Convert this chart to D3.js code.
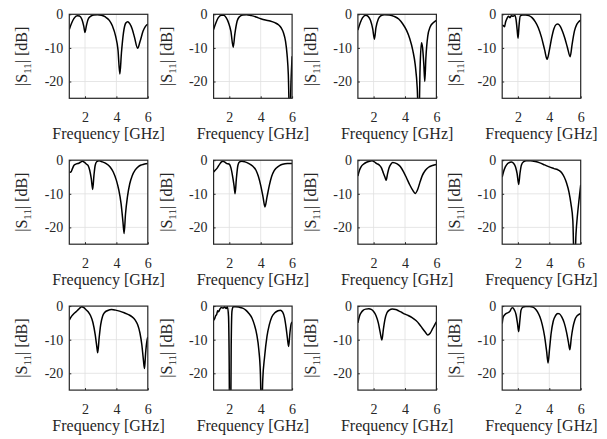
<!DOCTYPE html>
<html>
<head>
<meta charset="utf-8">
<script src="https://cdn.jsdelivr.net/npm/d3@7"></script>
<style>
  body { margin: 0; background: #fff; }
  svg text { font-family: "Liberation Serif", "Times New Roman", serif; fill: #262626; }
</style>
</head>
<body>
<svg id="chart" width="607" height="439"></svg>
<script>
// axis settings
const xDomain = [1, 6];
const yDomain = [-25, 0];
const xTicks = [2, 4, 6];
const yTicks = [0, -10, -20];
const xLabel = 'Frequency [GHz]';

// |S11| in dB, [frequency GHz, value] (row by row)
const s11Panel1 = [[1.0,-4.5],[1.15,-2.6],[1.3,-1.2],[1.5,-0.4],[1.65,-0.5],[1.8,-1.5],[1.92,-3.5],[2.0,-5.4],[2.08,-3.6],[2.2,-1.5],[2.35,-0.6],[2.55,-0.2],[2.8,-0.1],[3.05,-0.3],[3.3,-0.8],[3.55,-1.8],[3.75,-3.5],[3.95,-6.5],[4.1,-10.5],[4.22,-17.8],[4.32,-11.5],[4.45,-5.5],[4.6,-2.6],[4.72,-2.2],[4.85,-2.8],[5.0,-4.3],[5.15,-6.8],[5.35,-10.1],[5.5,-8.2],[5.7,-5.0],[5.85,-3.6],[6.0,-2.9]];
const s11Panel2 = [[1.0,-4.5],[1.15,-2.5],[1.3,-1.0],[1.5,-0.3],[1.65,-0.3],[1.8,-1.0],[1.95,-2.5],[2.1,-5.0],[2.25,-9.8],[2.35,-6.0],[2.5,-2.0],[2.65,-0.7],[2.85,-0.2],[3.1,-0.1],[3.4,-0.4],[3.7,-0.8],[4.0,-1.3],[4.3,-1.7],[4.6,-2.0],[4.9,-2.5],[5.15,-3.2],[5.3,-4.0],[5.45,-5.5],[5.58,-8.0],[5.68,-12],[5.76,-18],[5.85,-34],[5.93,-20],[6.0,-12.5]];
const s11Panel3 = [[1.0,-4.7],[1.15,-2.5],[1.3,-1.0],[1.5,-0.3],[1.65,-0.6],[1.8,-1.8],[1.95,-4.5],[2.05,-7.4],[2.15,-4.0],[2.3,-1.4],[2.45,-0.5],[2.7,-0.1],[3.0,-0.2],[3.3,-0.6],[3.6,-1.4],[3.85,-2.8],[4.1,-4.8],[4.3,-7.2],[4.5,-10.8],[4.65,-15],[4.78,-22],[4.88,-34],[4.96,-16],[5.05,-8.5],[5.12,-10],[5.2,-15],[5.26,-20],[5.33,-13],[5.45,-6.5],[5.6,-3.8],[5.8,-2.5],[6.0,-1.8]];
const s11Panel4 = [[1.0,-3.2],[1.08,-3.4],[1.15,-3.7],[1.22,-2.2],[1.3,-1.3],[1.4,-0.6],[1.5,-1.0],[1.58,-0.4],[1.7,-0.6],[1.8,-0.3],[1.88,-1.5],[1.95,-4.5],[2.01,-7.1],[2.07,-3.5],[2.15,-0.5],[2.3,-0.2],[2.5,-0.2],[2.7,-0.4],[2.9,-1.0],[3.1,-2.2],[3.3,-4.0],[3.5,-6.8],[3.7,-10.5],[3.86,-13.4],[4.0,-10.8],[4.15,-7.0],[4.3,-4.2],[4.45,-3.0],[4.55,-2.9],[4.7,-3.6],[4.85,-5.2],[5.0,-7.3],[5.15,-9.8],[5.33,-12.6],[5.45,-9.0],[5.6,-5.0],[5.75,-3.0],[5.9,-2.1],[6.0,-1.7]];
const s11Panel5 = [[1.0,-3.6],[1.1,-3.5],[1.2,-2.5],[1.3,-1.5],[1.45,-1.1],[1.6,-0.9],[1.75,-0.5],[1.85,-0.3],[1.95,-0.6],[2.1,-1.2],[2.2,-1.6],[2.3,-3.0],[2.4,-5.5],[2.49,-8.7],[2.57,-4.5],[2.65,-1.5],[2.75,-0.4],[2.9,-0.2],[3.1,-0.5],[3.35,-1.0],[3.6,-2.0],[3.8,-3.5],[4.0,-6.0],[4.15,-8.8],[4.3,-13],[4.42,-18.5],[4.49,-21.8],[4.58,-16],[4.7,-11],[4.85,-7.0],[5.0,-4.7],[5.2,-2.9],[5.4,-1.9],[5.6,-1.4],[5.8,-1.1],[6.0,-1.0]];
const s11Panel6 = [[1.0,-3.5],[1.1,-3.0],[1.2,-2.5],[1.3,-1.8],[1.4,-1.1],[1.5,-0.5],[1.6,-0.3],[1.72,-0.6],[1.85,-1.0],[2.0,-1.2],[2.1,-2.2],[2.2,-4.5],[2.3,-7.5],[2.37,-10.0],[2.45,-5.5],[2.55,-1.5],[2.65,-0.5],[2.8,-0.3],[3.0,-0.5],[3.25,-1.0],[3.5,-1.8],[3.7,-3.0],[3.85,-4.8],[4.0,-7.5],[4.15,-11.0],[4.27,-13.9],[4.4,-11.0],[4.55,-7.5],[4.7,-4.8],[4.85,-3.2],[5.0,-2.3],[5.2,-1.6],[5.4,-1.2],[5.7,-1.0],[6.0,-1.0]];
const s11Panel7 = [[1.0,-4.7],[1.1,-3.0],[1.2,-2.0],[1.35,-1.2],[1.55,-0.6],[1.75,-0.3],[1.9,-0.2],[2.05,-0.5],[2.2,-1.0],[2.35,-1.4],[2.5,-2.3],[2.62,-3.8],[2.72,-5.0],[2.8,-6.0],[2.88,-4.2],[2.98,-2.3],[3.1,-1.2],[3.22,-0.7],[3.35,-0.8],[3.5,-1.1],[3.7,-1.9],[3.9,-3.4],[4.1,-5.3],[4.3,-7.3],[4.5,-9.0],[4.65,-9.9],[4.8,-8.8],[4.95,-6.6],[5.1,-4.6],[5.3,-3.0],[5.5,-2.1],[5.75,-1.6],[6.0,-1.3]];
const s11Panel8 = [[1.0,-5.0],[1.1,-3.2],[1.2,-2.0],[1.35,-1.0],[1.5,-0.6],[1.6,-0.5],[1.72,-0.9],[1.85,-2.0],[1.95,-4.0],[2.05,-7.2],[2.13,-4.0],[2.22,-1.5],[2.35,-0.5],[2.55,-0.2],[2.8,-0.2],[3.1,-0.4],[3.4,-0.8],[3.7,-1.4],[4.0,-2.0],[4.3,-2.5],[4.6,-3.0],[4.8,-3.8],[4.95,-5.0],[5.1,-6.8],[5.25,-9.4],[5.38,-13],[5.5,-18],[5.6,-34],[5.7,-22],[5.8,-16],[5.9,-11.5],[6.0,-7.3]];
const s11Panel9 = [[1.0,-4.2],[1.15,-3.0],[1.3,-2.2],[1.45,-1.6],[1.6,-0.9],[1.72,-0.4],[1.8,-0.2],[1.9,-0.4],[2.05,-1.0],[2.2,-1.7],[2.35,-2.8],[2.5,-4.8],[2.65,-8.5],[2.75,-12],[2.81,-13.9],[2.9,-9.5],[3.0,-5.5],[3.12,-3.0],[3.25,-1.9],[3.45,-1.3],[3.7,-1.0],[3.95,-1.2],[4.2,-1.5],[4.5,-2.0],[4.8,-2.6],[5.0,-3.2],[5.2,-4.2],[5.35,-5.5],[5.5,-8.0],[5.62,-11.5],[5.72,-16],[5.79,-18.6],[5.86,-14],[5.94,-10.5],[6.0,-9.2]];
const s11Panel10 = [[1.0,-4.2],[1.06,-3.8],[1.12,-3.0],[1.2,-2.4],[1.26,-1.4],[1.32,-1.7],[1.4,-0.9],[1.5,-0.4],[1.6,-0.6],[1.7,-0.3],[1.8,-0.7],[1.88,-0.2],[1.95,-3.0],[1.99,-15],[2.03,-40],[2.08,-40],[2.12,-12],[2.17,-1.5],[2.25,-0.2],[2.4,-0.2],[2.6,-0.3],[2.85,-0.6],[3.05,-1.2],[3.25,-2.2],[3.45,-3.6],[3.6,-5.6],[3.75,-8.5],[3.88,-13],[3.98,-20],[4.05,-34],[4.13,-22],[4.25,-15],[4.4,-9],[4.55,-5.5],[4.7,-3.3],[4.9,-2.0],[5.1,-1.4],[5.25,-1.2],[5.4,-1.8],[5.52,-3.5],[5.62,-6.5],[5.7,-9.5],[5.78,-12],[5.86,-8],[5.94,-5.3],[6.0,-4.7]];
const s11Panel11 = [[1.0,-5.0],[1.1,-3.0],[1.2,-2.0],[1.35,-1.2],[1.5,-0.9],[1.7,-0.8],[1.85,-1.0],[2.0,-1.6],[2.15,-2.8],[2.3,-5.0],[2.42,-7.8],[2.53,-10.1],[2.62,-7.0],[2.72,-4.0],[2.85,-2.0],[3.0,-1.2],[3.2,-0.9],[3.4,-1.0],[3.6,-1.4],[3.8,-1.9],[4.0,-2.4],[4.2,-2.8],[4.45,-3.4],[4.7,-4.3],[4.9,-5.3],[5.1,-6.6],[5.3,-7.8],[5.45,-8.6],[5.6,-8.1],[5.75,-6.8],[5.9,-5.5],[6.0,-4.7]];
const s11Panel12 = [[1.0,-5.2],[1.05,-3.5],[1.12,-2.8],[1.2,-2.4],[1.3,-2.1],[1.4,-1.9],[1.5,-1.5],[1.6,-0.6],[1.68,-0.5],[1.78,-1.2],[1.88,-2.5],[1.97,-5.0],[2.05,-7.6],[2.12,-4.5],[2.2,-1.2],[2.32,-0.3],[2.5,-0.1],[2.75,-0.1],[2.95,-0.3],[3.1,-0.8],[3.25,-1.7],[3.4,-3.2],[3.55,-5.5],[3.7,-9.0],[3.83,-13.5],[3.92,-16.9],[4.02,-12.5],[4.12,-8.0],[4.25,-4.5],[4.4,-2.8],[4.55,-2.2],[4.65,-2.3],[4.8,-3.3],[4.95,-5.0],[5.1,-7.8],[5.22,-10.8],[5.31,-13.0],[5.4,-9.5],[5.5,-6.5],[5.62,-4.2],[5.75,-3.0],[5.88,-2.5],[6.0,-2.3]];

const panels = [
  s11Panel1, s11Panel2, s11Panel3, s11Panel4,
  s11Panel5, s11Panel6, s11Panel7, s11Panel8,
  s11Panel9, s11Panel10, s11Panel11, s11Panel12
];

const svg = d3.select('#chart');
const serif = '"Liberation Serif", "Times New Roman", serif';

// grid layout of the small axes
const plotW = 78.5, plotH = 84;
const left0 = 69.3, colStep = 144.3;
const top0 = 14.3, rowStep = 145.9;

const x = d3.scaleLinear().domain(xDomain).range([0, plotW]);
const y = d3.scaleLinear().domain(yDomain).range([plotH, 0]);

const line = d3.line()
  .x(d => x(d[0]))
  .y(d => y(d[1]))
  .curve(d3.curveMonotoneX);

panels.forEach((data, i) => {
  const col = i % 4, row = Math.floor(i / 4);
  const g = svg.append('g')
    .attr('font-family', serif)
    .attr('transform', `translate(${left0 + col * colStep}, ${top0 + row * rowStep})`);

  // grid lines
  g.append('g').selectAll('line')
    .data(xTicks.filter(t => t > xDomain[0] && t < xDomain[1]))
    .enter().append('line')
    .attr('x1', d => x(d)).attr('x2', d => x(d))
    .attr('y1', 0).attr('y2', plotH)
    .attr('stroke', '#dfdfdf').attr('stroke-width', 0.8);
  g.append('g').selectAll('line')
    .data(yTicks.filter(t => t > yDomain[0] && t < yDomain[1]))
    .enter().append('line')
    .attr('x1', 0).attr('x2', plotW)
    .attr('y1', d => y(d)).attr('y2', d => y(d))
    .attr('stroke', '#dfdfdf').attr('stroke-width', 0.8);

  // clip so deep dips leave through the bottom
  const clipId = `clip${i}`;
  g.append('clipPath').attr('id', clipId)
    .append('rect').attr('width', plotW).attr('height', plotH);

  g.append('path')
    .datum(data)
    .attr('clip-path', `url(#${clipId})`)
    .attr('fill', 'none')
    .attr('stroke', '#000')
    .attr('stroke-width', 1.5)
    .attr('d', line);

  // axes, ticks pointing inward
  const xAxis = g.append('g')
    .attr('transform', `translate(0, ${plotH})`)
    .call(d3.axisBottom(x).tickValues(xTicks).tickSize(-2).tickPadding(14).tickFormat(d3.format('d')));
  const yAxis = g.append('g')
    .call(d3.axisLeft(y).tickValues(yTicks).tickSize(-2).tickPadding(6).tickFormat(d => d < 0 ? '-' + Math.abs(d) : d));
  [xAxis, yAxis].forEach(a => {
    a.attr('font-family', serif).attr('font-size', 14);
    a.select('.domain').remove();
    a.selectAll('line').attr('stroke', '#262626');
    a.selectAll('text').attr('fill', '#262626');
  });

  // box
  g.append('rect')
    .attr('width', plotW).attr('height', plotH)
    .attr('fill', 'none')
    .attr('stroke', '#262626')
    .attr('stroke-width', 1.2);

  // axis labels
  g.append('text')
    .attr('x', plotW / 2)
    .attr('y', plotH + 41)
    .attr('text-anchor', 'middle')
    .attr('font-size', 16)
    .text(xLabel);

  const yl = g.append('text')
    .attr('transform', `translate(-42, ${plotH / 2}) rotate(-90)`)
    .attr('text-anchor', 'middle')
    .attr('font-size', 16);
  yl.append('tspan').text('|S');
  yl.append('tspan').attr('dy', 4).attr('font-size', 11).text('11');
  yl.append('tspan').attr('dy', -4).text('| [dB]');
});
</script>
</body>
</html>
